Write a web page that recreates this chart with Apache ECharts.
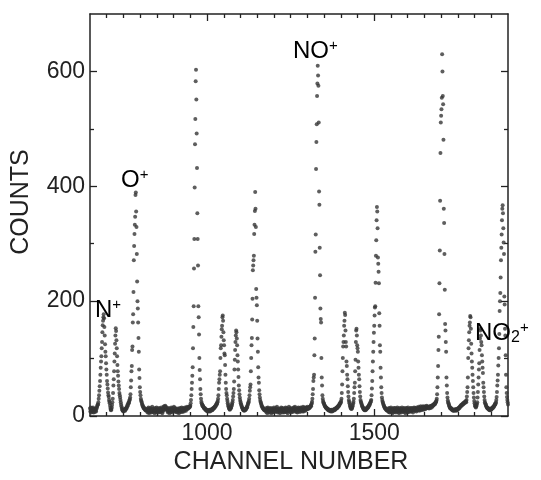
<!DOCTYPE html>
<html>
<head>
<meta charset="utf-8">
<script src="https://cdn.jsdelivr.net/npm/echarts@6/dist/echarts.min.js"></script>
<style>
  html, body { margin: 0; padding: 0; background: #fff; }
  #chart { width: 541px; height: 480px; }
</style>
</head>
<body>
<div id="chart"></div>
<script>
// axis range and ticks
const channelMin = 650;
const channelMax = 1900;
const xLabelValues = [1000, 1500];
const xMinorTicks = [700, 750, 800, 850, 900, 950, 1050, 1100, 1150, 1200, 1250, 1300,
  1350, 1400, 1450, 1550, 1600, 1650, 1700, 1750, 1800, 1850];
const yLabelValues = [0, 200, 400, 600];
const yMinorTicks = [100, 300, 500];

// counts, one per channel; each block starts at the channel given in `blocks`
const bg650 = [13, 8, 15, 10, 6, 14, 11, 7, 12, 15, 9, 6, 12, 10, 7, 13, 11, 9, 8, 12, 14, 16, 18, 20];
const peakN = [20, 24, 30, 36, 44, 52, 61, 72, 84, 95, 104, 118, 129, 146, 158, 166, 172, 177, 170, 155,
  140, 125, 112, 104, 92, 81, 72, 61, 55, 48, 41, 36, 33, 28, 25];
const gap709 = [22, 18, 14, 11, 10, 12, 15];
const peak716 = [19, 24, 30, 40, 53, 64, 78, 95, 109, 126, 140, 153, 148, 132, 118, 104, 89, 78, 70, 60,
  53, 47, 40, 36, 32, 28];
const gap742 = [24, 20, 17, 14, 12, 10, 9, 10, 8, 11, 9, 10, 12, 9, 11, 13, 12, 15, 14, 17, 19, 18, 21, 23,
  22, 25, 27, 29];
const peakO = [32, 38, 50, 62, 78, 87, 115, 121, 163, 177, 216, 271, 296, 317, 333, 347, 385, 389, 356, 329,
  282, 234, 200, 187, 163, 136, 112, 81, 66, 50, 42, 36, 30];
const tail803 = [27, 25, 23, 20, 19, 17, 16, 14, 15, 13, 12, 13, 11, 10, 12, 9, 10, 11];
const bg821 = [
  10, 6, 13, 8, 15, 9, 5, 12, 7, 11,
  14, 8, 10, 6, 12, 16, 9, 7, 11, 13,
  8, 12, 5, 10, 14, 7, 11, 9, 15, 6,
  10, 13, 8, 11, 6, 9, 14, 12, 7, 10,
  12, 7, 15, 9, 11, 5, 13, 8, 10, 16,
  14, 17, 12, 15, 18, 13, 16, 11, 14, 12,
  9, 13, 6, 11, 8, 14, 10, 5, 12, 9,
  7, 11, 15, 8, 13, 6, 10, 14, 12, 9,
  16, 11, 13, 8, 14, 10, 7, 12, 9, 11,
  6, 10, 13, 8, 12, 5, 11, 9, 14, 7,
  10, 13, 8, 15, 11, 7, 12, 9, 14, 10,
  8, 12, 10, 15, 11, 13, 9, 14, 12, 16];
const rise941 = [13, 12, 14, 15, 14, 16, 15, 17, 16];
const peak950 = [18, 22, 28, 36, 47, 58, 70, 85, 118, 155, 191, 257, 308, 398, 473, 517, 583, 603, 551, 492,
  432, 353, 308, 262, 191, 172, 142, 101, 80, 64, 47, 38, 30, 25];
const gap984 = [22, 20, 19, 17, 18, 16, 15, 14, 13, 14, 12, 11, 12, 10, 11, 9, 10, 8, 9, 10, 9, 8, 10, 9,
  11, 8, 10, 9, 11, 10, 12, 11, 10, 13, 12, 14, 13, 15, 14, 16, 17, 16, 18, 19, 20, 22, 21, 24];
const peak1032 = [26, 30, 36, 47, 58, 64, 72, 78, 101, 118, 123, 138, 151, 157, 172, 175, 166, 146, 132, 123,
  109, 106, 89, 72, 58, 47, 40, 36, 30, 26];
const gap1062 = [22, 19, 17, 15, 13, 12, 11, 12, 13, 15, 14, 17, 19, 21, 24];
const peak1077 = [28, 34, 40, 47, 60, 81, 98, 115, 129, 140, 149, 146, 135, 123, 106, 95, 81, 68, 53, 45,
  38, 32, 28];
const gap1100 = [25, 22, 20, 18, 16, 15, 13, 12, 11, 10, 11, 9, 10, 12, 10, 11, 13, 12, 14, 16, 15, 18, 20,
  22, 24, 26];
const peak1126 = [30, 36, 44, 50, 55, 78, 101, 123, 136, 168, 204, 254, 262, 271, 279, 317, 333, 357, 390, 361,
  329, 221, 206, 193, 166, 135, 112, 85, 67, 58, 45, 38, 32, 28];
const tail1160 = [25, 23, 21, 19, 17, 16, 15, 13, 14, 12, 11, 12, 10, 11, 9, 10];
const bg1176 = [
  11, 7, 14, 9, 5, 12, 15, 8, 10, 13,
  6, 9, 12, 8, 14, 10, 5, 11, 13, 7,
  10, 6, 13, 9, 15, 11, 7, 12, 8, 10,
  14, 9, 11, 16, 8, 6, 12, 9, 13, 10,
  7, 11, 5, 13, 9, 12, 15, 8, 10, 6,
  14, 11, 8, 12, 6, 13, 10, 7, 9, 15,
  8, 12, 14, 7, 10, 5, 13, 11, 9, 16,
  12, 8, 10, 14, 11, 6, 9, 13, 10, 7,
  9, 13, 11, 15, 8, 14, 10, 16, 12, 9,
  13, 7, 11, 9, 6, 14, 12, 15, 8, 11,
  10, 13, 7, 12, 15, 9, 14, 11, 13, 8,
  12, 16, 10, 8, 13, 15, 11, 14, 9, 12,
  15, 11, 14, 13, 16];
const rise1301 = [13, 12, 14, 13, 15, 14, 16, 15, 17, 18, 17, 20, 22, 25];
const peakNO = [30, 38, 47, 61, 67, 72, 106, 135, 206, 286, 316, 430, 477, 508, 557, 579, 610, 593, 575, 511,
  391, 368, 293, 245, 187, 169, 163, 101, 67, 53, 36, 30, 26];
const gap1348 = [
  24, 22, 21, 19, 18, 17, 16, 15, 14, 15,
  13, 12, 13, 11, 12, 10, 11, 9, 10, 11,
  9, 10, 8, 9, 11, 10, 8, 9, 10, 9,
  11, 10, 12, 11, 10, 12, 13, 12, 14, 13,
  15, 14, 16, 15, 17, 18, 17, 19, 21, 20,
  22, 24, 23, 26];
const peak1402 = [30, 40, 55, 78, 101, 121, 129, 140, 157, 166, 180, 176, 149, 129, 121, 95, 87, 72, 64, 52,
  42, 34, 28];
const gap1425 = [25, 22, 19, 17, 15, 13, 14, 12, 13, 15, 17, 19, 22, 25];
const peak1439 = [30, 40, 50, 58, 78, 98, 129, 149, 152, 140, 123, 118, 112, 95, 84, 72, 64, 52, 42, 34, 28];
const gap1460 = [25, 23, 21, 19, 17, 16, 15, 13, 12, 13, 11, 10, 11, 12, 10, 11, 13, 12, 14, 13, 15, 16, 15,
  17, 18, 20, 19, 21, 23, 24, 26];
const peak1491 = [28, 36, 48, 61, 78, 95, 112, 129, 145, 157, 175, 189, 191, 232, 279, 306, 341, 364, 356, 327,
  276, 265, 251, 231, 179, 157, 123, 112, 84, 67, 50, 40, 32, 28];
const tail1525 = [25, 23, 21, 19, 18, 16, 15, 14, 13, 12, 13, 11, 10, 11, 9, 10];
const bg1541 = [
  9, 13, 7, 11, 14, 6, 10, 12, 8, 15,
  11, 6, 9, 13, 5, 12, 10, 8, 14, 7,
  10, 14, 8, 12, 6, 11, 9, 13, 15, 7,
  12, 8, 11, 5, 10, 14, 9, 7, 13, 10,
  6, 12, 15, 9, 11, 8, 13, 10, 7, 14,
  11, 9, 5, 12, 8, 14, 10, 13, 6, 11,
  15, 9, 12, 7, 10, 13, 8, 11, 14, 10,
  8, 12, 14, 9, 11, 6, 13, 10, 15, 12,
  10, 14, 9, 13, 11, 8, 15, 12, 10, 13,
  14, 10, 16, 11, 9, 13, 15, 12, 17, 10,
  13, 15, 11, 16, 12, 14, 17, 11, 15, 13,
  16, 14, 12, 17, 13, 15, 18, 14, 16, 15];
const rise1661 = [14, 16, 15, 13, 16, 15, 17, 14, 16, 18, 17, 15, 18, 17, 19, 18, 20, 19, 21, 20, 22, 21, 23,
  24, 25, 27];
const peak1687 = [30, 38, 50, 67, 87, 115, 138, 177, 231, 288, 375, 458, 511, 523, 534, 554, 630, 600, 557, 543,
  481, 361, 336, 282, 220, 160, 149, 129, 112, 67, 53, 40, 32, 27];
const gap1721 = [
  24, 22, 20, 18, 17, 15, 14, 13, 14, 12,
  13, 11, 12, 10, 11, 9, 10, 11, 9, 10,
  11, 10, 12, 10, 9, 11, 12, 10, 11, 13,
  12, 14, 13, 15, 14, 16, 17, 16, 18, 19,
  18, 20, 19, 21, 20, 22, 21, 23, 22, 24,
  23, 25, 24, 26];
const peak1775 = [24, 28, 34, 42, 50, 67, 101, 118, 132, 146, 157, 163, 174, 172, 152, 126, 109, 95, 84, 72,
  61, 50, 40, 32, 26];
const gap1800 = [22, 19, 17, 16, 15, 17, 19, 21];
const peak1808 = [24, 32, 42, 55, 67, 81, 92, 115, 135, 149, 152, 140, 129, 123, 106, 95, 84, 75, 58, 50, 42,
  34, 28];
const gap1831 = [24, 22, 20, 19, 17, 16, 15, 14, 13, 14, 12, 13, 11, 12, 10, 11, 12, 10, 11, 13, 12, 14, 13,
  15, 14, 16, 17, 16, 18, 19, 21, 20, 22, 24];
const peakNO2 = [28, 33, 42, 53, 62, 72, 88, 101, 118, 143, 183, 200, 214, 241, 271, 293, 316, 341, 361, 367,
  353, 327, 302, 282, 208, 194, 152, 140, 106, 72, 50, 40, 33, 28, 24, 20];

const blocks = [
  [650, bg650], [674, peakN], [709, gap709], [716, peak716], [742, gap742], [770, peakO],
  [803, tail803], [821, bg821], [941, rise941], [950, peak950], [984, gap984], [1032, peak1032],
  [1062, gap1062], [1077, peak1077], [1100, gap1100], [1126, peak1126], [1160, tail1160],
  [1176, bg1176], [1301, rise1301], [1315, peakNO], [1348, gap1348], [1402, peak1402],
  [1425, gap1425], [1439, peak1439], [1460, gap1460], [1491, peak1491], [1525, tail1525],
  [1541, bg1541], [1661, rise1661], [1687, peak1687], [1721, gap1721], [1775, peak1775],
  [1800, gap1800], [1808, peak1808], [1831, gap1831], [1865, peakNO2]
];

const points = [];
blocks.forEach(([start, counts]) => {
  counts.forEach((c, i) => points.push([start + i, c]));
});

const ink = "#222";
const font = "'Liberation Sans', Arial, Helvetica, sans-serif";

function xAxisFor(position, major) {
  return {
    type: "value",
    position: position,
    min: channelMin,
    max: channelMax,
    axisLine: { onZero: false, show: major, lineStyle: { color: ink, width: 1.5 } },
    axisTick: {
      inside: true,
      length: major ? 7 : 4,
      customValues: major ? xLabelValues : xMinorTicks,
      lineStyle: { color: ink, width: 1.3 },
    },
    axisLabel: {
      show: major && position === "bottom",
      customValues: xLabelValues,
      formatter: (v) => String(v),
      color: ink,
      fontFamily: font,
      fontSize: 23,
      margin: 6,
    },
    splitLine: { show: false },
  };
}

function yAxisFor(position, major) {
  return {
    type: "value",
    position: position,
    min: 0,
    max: 700,
    axisLine: { onZero: false, show: major, lineStyle: { color: ink, width: 1.5 } },
    axisTick: {
      inside: true,
      length: major ? 7 : 4,
      customValues: major ? yLabelValues : yMinorTicks,
      lineStyle: { color: ink, width: 1.3 },
    },
    axisLabel: {
      show: major && position === "left",
      customValues: yLabelValues,
      formatter: (v) => String(v),
      color: ink,
      fontFamily: font,
      fontSize: 23,
      margin: 5,
    },
    splitLine: { show: false },
  };
}

const xMain = xAxisFor("bottom", true);
xMain.name = "CHANNEL NUMBER";
xMain.nameLocation = "middle";
xMain.nameGap = 34;
xMain.nameTextStyle = { color: ink, fontFamily: font, fontSize: 25, padding: [0, 16, 0, 0] };

const yMain = yAxisFor("left", true);
yMain.name = "COUNTS";
yMain.nameLocation = "middle";
yMain.nameGap = 56;
yMain.nameRotate = 90;
yMain.nameTextStyle = { color: ink, fontFamily: font, fontSize: 25, padding: [0, 0, 0, 26] };

const rich = {
  m: { fontFamily: font, fontSize: 24, lineHeight: 26, color: ink },
  s: { fontFamily: font, fontSize: 15, lineHeight: 15, verticalAlign: "top", color: ink },
  d: { fontFamily: font, fontSize: 16, lineHeight: 14, verticalAlign: "bottom", color: ink },
};

function ionLabel(text, left, top) {
  return { type: "text", left: left, top: top, z: 10, style: { text: text, rich: rich } };
}

const chart = echarts.init(document.getElementById("chart"), null, { renderer: "canvas" });
chart.setOption({
  animation: false,
  backgroundColor: "#fff",
  grid: { left: 90, right: 33, top: 14, bottom: 54, containLabel: false },
  xAxis: [xMain, xAxisFor("bottom", false), xAxisFor("top", true), xAxisFor("top", false)],
  yAxis: [yMain, yAxisFor("left", false), yAxisFor("right", true), yAxisFor("right", false)],
  series: [
    {
      type: "scatter",
      xAxisIndex: 0,
      yAxisIndex: 0,
      data: points,
      symbol: "circle",
      symbolSize: 4,
      itemStyle: { color: "#363636" },
      silent: true,
    },
  ],
  graphic: [
    ionLabel("{m|N}{s|+}", 95, 297),
    ionLabel("{m|O}{s|+}", 121, 167),
    ionLabel("{m|NO}{s|+}", 293, 38),
    ionLabel("{m|NO}{d|2}{s|+}", 475, 320),
  ],
});
</script>
</body>
</html>
